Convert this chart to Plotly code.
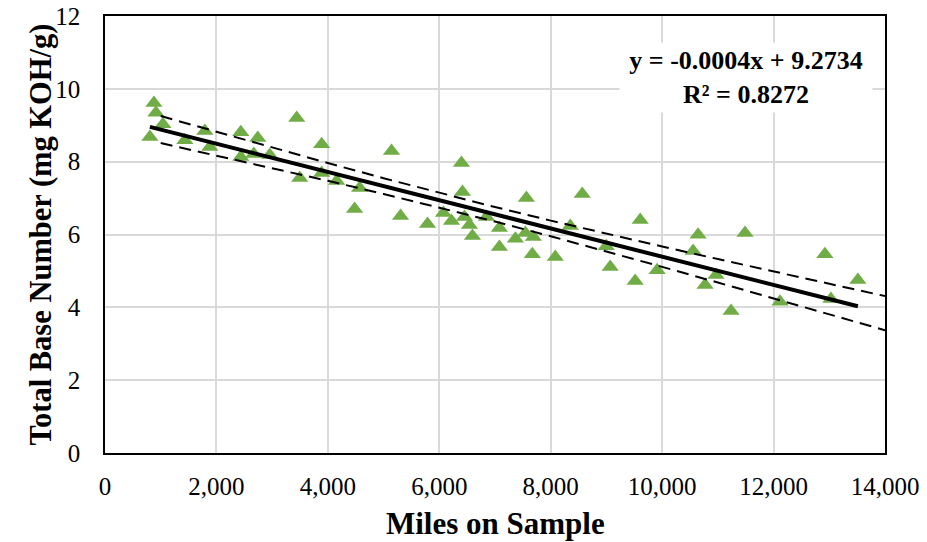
import numpy as np
import plotly.graph_objects as go

miles = [806, 878, 914, 1039, 1434, 1792, 1882, 2437, 2437, 2742, 2670, 2957, 3441, 3495,
         3889, 3889, 4158, 4480, 4570, 5143, 5305, 5789, 6075, 6219, 6398, 6416, 6452, 6541,
         6595, 6846, 7079, 7079, 7366, 7563, 7545, 7688, 7670, 8082, 8351, 8566, 8996, 9068,
         9516, 9606, 9910, 10556, 10645, 10771, 10968, 11237, 11487, 12115, 12921, 13029, 13513]
tbn = [8.68, 9.61, 9.34, 9.03, 8.59, 8.84, 8.40, 8.81, 8.13, 8.65, 8.21, 8.18, 9.20, 7.55,
       8.48, 7.69, 7.47, 6.70, 7.28, 8.29, 6.51, 6.29, 6.59, 6.37, 7.96, 7.17, 6.48, 6.26,
       5.96, 6.48, 6.18, 5.66, 5.88, 7.00, 6.04, 5.93, 5.46, 5.38, 6.23, 7.11, 5.68, 5.11,
       4.72, 6.40, 5.02, 5.55, 5.99, 4.61, 4.89, 3.90, 6.04, 4.15, 5.46, 4.23, 4.75]

x_ticks = [0, 2000, 4000, 6000, 8000, 10000, 12000, 14000]
y_ticks = [0, 2, 4, 6, 8, 10, 12]
x_title = "Miles on Sample"
y_title = "Total Base Number (mg KOH/g)"
equation_lines = ["y = -0.0004x + 9.2734", "R² = 0.8272"]
band_x = [1000, 2000, 3000, 4000, 5000, 6000, 7000, 8000, 9000, 10000, 11000, 12000, 13000, 14000]
t_value = 2.3

x = np.array(miles, float)
y = np.array(tbn, float)
slope, intercept = np.polyfit(x, y, 1)
n = len(x)
resid = y - (slope * x + intercept)
s = np.sqrt(np.sum(resid ** 2) / (n - 2))
sxx = np.sum((x - x.mean()) ** 2)
bx = np.array(band_x, float)
by = slope * bx + intercept
half = t_value * s * np.sqrt(1 / n + (bx - x.mean()) ** 2 / sxx)

tx = np.array([x.min(), x.max()])
ty = slope * tx + intercept

fig = go.Figure()
fig.add_trace(go.Scatter(x=miles, y=tbn, mode="markers",
                         marker=dict(symbol="triangle-up", size=15, color="#70ad47",
                                     line=dict(width=0)), showlegend=False))
for sign in (1, -1):
    fig.add_trace(go.Scatter(x=bx, y=by + sign * half, mode="lines",
                             line=dict(color="black", width=2, dash="12px,7px"), showlegend=False))
fig.add_trace(go.Scatter(x=tx, y=ty, mode="lines",
                         line=dict(color="black", width=4), showlegend=False))

font_family = "Liberation Serif, Times New Roman, serif"
fig.update_layout(
    width=927, height=542,
    margin=dict(l=105, r=42, t=16, b=89),
    paper_bgcolor="white", plot_bgcolor="white",
    font=dict(family=font_family, color="black", size=25),
    xaxis=dict(range=[0, 14000], tickvals=x_ticks, ticktext=[f"{v:,}" for v in x_ticks],
               showgrid=True, gridcolor="#d9d9d9", gridwidth=1.5, zeroline=False,
               showline=True, linecolor="black", linewidth=1.5, mirror=True,
               ticks="", ticklabelstandoff=10, automargin=False, ticklabeloverflow="allow"),
    yaxis=dict(range=[0, 12], tickvals=y_ticks,
               showgrid=True, gridcolor="#d9d9d9", gridwidth=1.5, zeroline=False,
               showline=True, linecolor="black", linewidth=1.5, mirror=True,
               ticks="", ticklabelstandoff=18, automargin=False, ticklabeloverflow="allow"),
    annotations=[
        dict(x=0.822, y=0.86, xref="paper", yref="paper", xanchor="center", yanchor="middle",
             text="<br>".join("<b>" + t + "</b>" for t in equation_lines),
             showarrow=False, align="center", bgcolor="white",
             width=246, borderpad=3,
             font=dict(size=26, family=font_family)),
        dict(x=0.5, y=-0.162, xref="paper", yref="paper", xanchor="center", yanchor="middle",
             text="<b>" + x_title + "</b>", showarrow=False, font=dict(size=31, family=font_family)),
        dict(x=-0.0833, y=0.5, xref="paper", yref="paper", xanchor="center", yanchor="middle",
             text="<b>" + y_title + "</b>", textangle=-90, showarrow=False,
             font=dict(size=30.5, family=font_family)),
    ],
)
fig.write_html("out.html", config={"displayModeBar": False},
               post_script="document.body.style.margin='0';document.body.style.padding='0';"
                           "document.body.style.overflow='hidden';")
